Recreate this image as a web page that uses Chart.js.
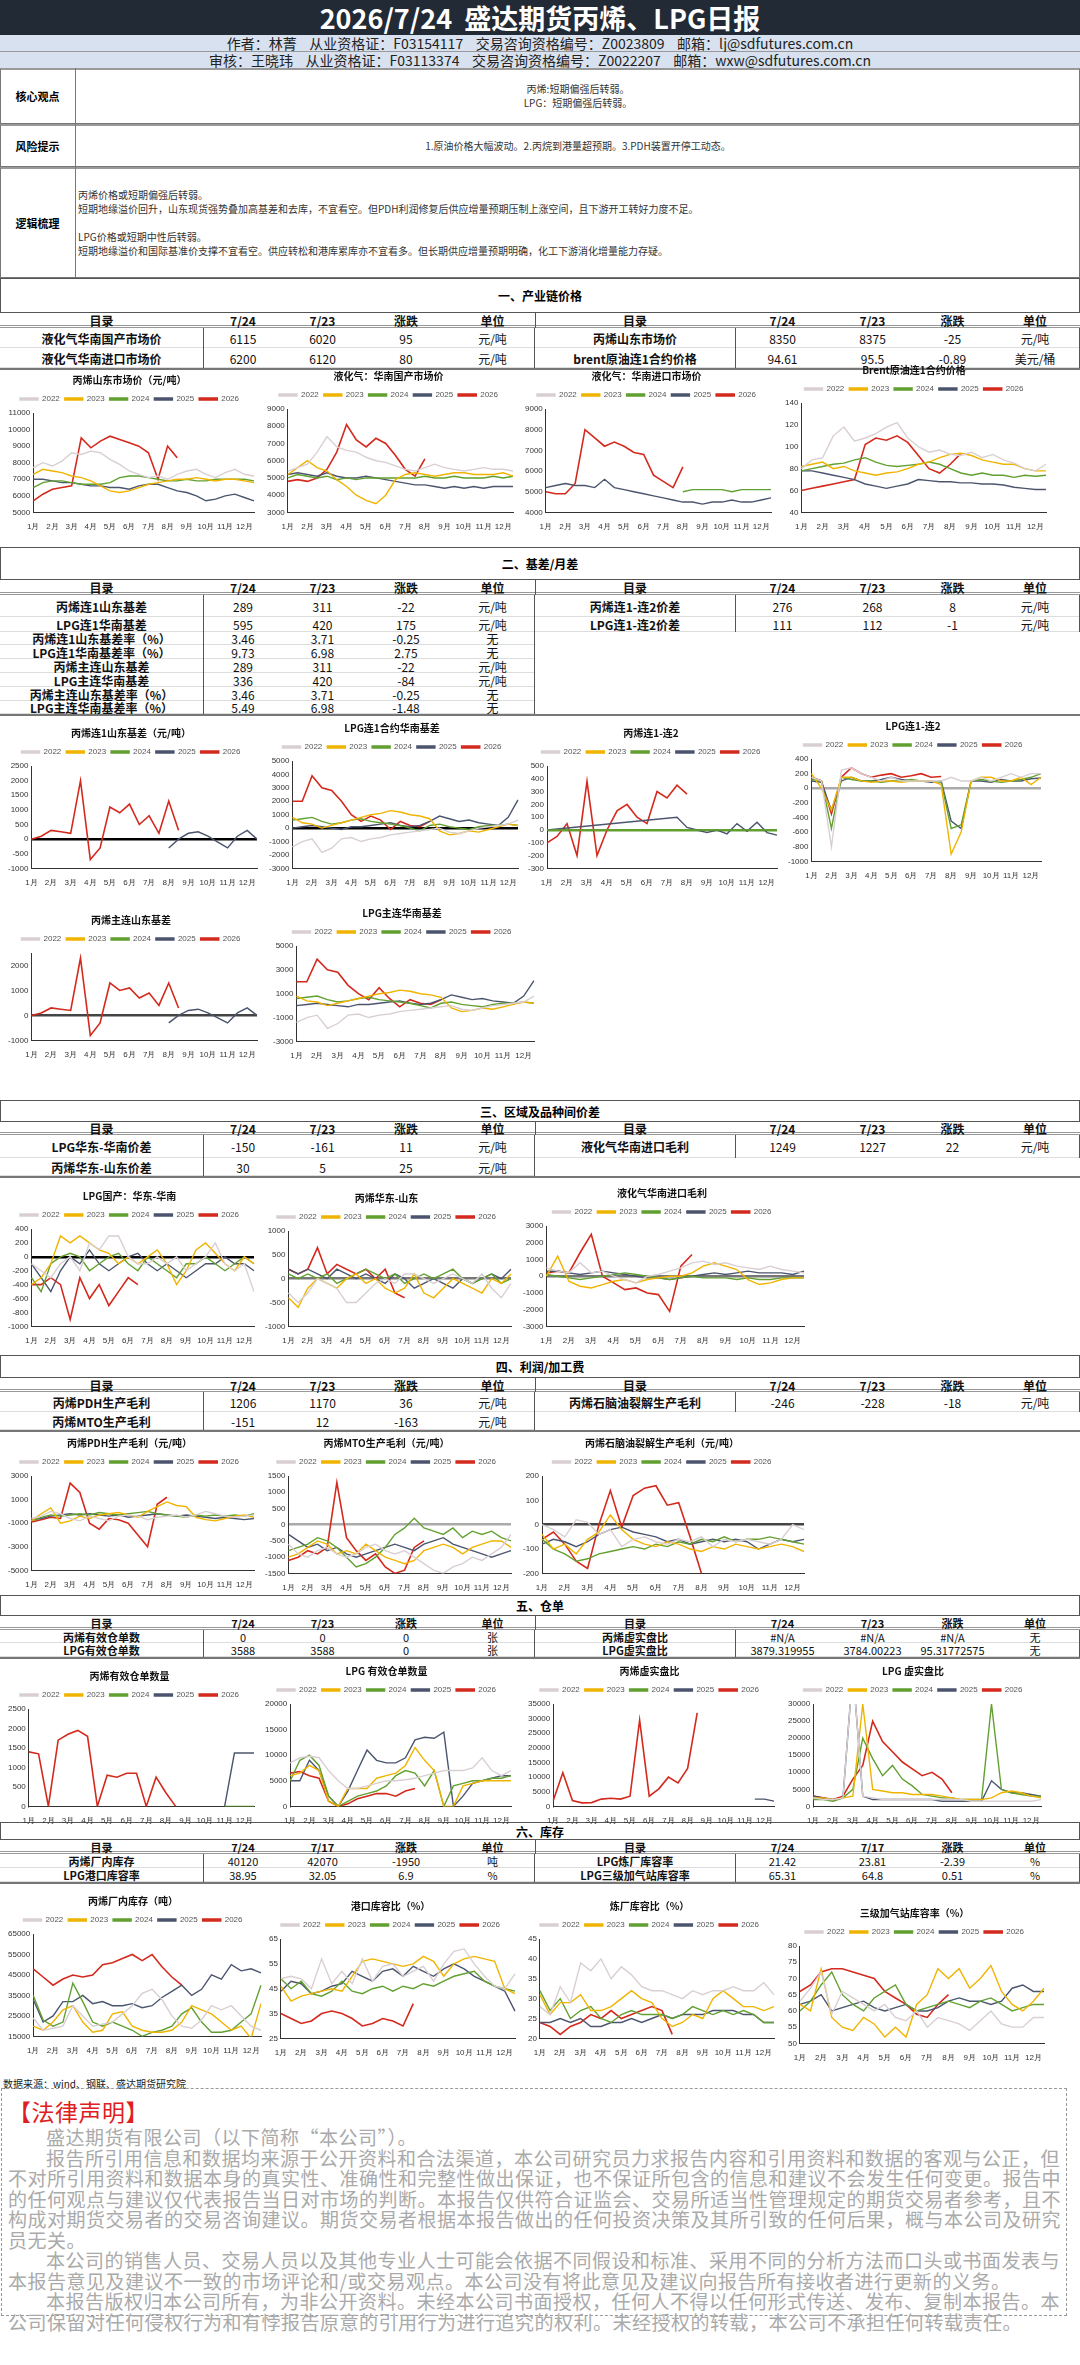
<!DOCTYPE html>
<html><head><meta charset="utf-8">
<script src="https://cdn.jsdelivr.net/npm/chart.js@4.4.1/dist/chart.umd.min.js"></script>
<style>
body{margin:0;background:#fff;font-family:"Noto Sans CJK SC","Noto Sans",sans-serif;}
#page{position:relative;width:1080px;height:2365px;overflow:hidden;background:#fff;}
.abs{position:absolute;box-sizing:border-box;}
.cell{position:absolute;box-sizing:border-box;display:flex;align-items:center;justify-content:center;font-size:12px;color:#111;white-space:nowrap;}
.b{font-weight:bold;}
.sec{position:absolute;left:0;width:1080px;box-sizing:border-box;border:1px solid #555;border-left:1px solid #555;display:flex;align-items:center;justify-content:center;font-weight:bold;font-size:12px;}
canvas{position:absolute;}
</style></head><body><div id="page"></div>
<script>
// ---------- DATA ----------
const years=['2022','2023','2024','2025','2026'];
const months=['1月','2月','3月','4月','5月','6月','7月','8月','9月','10月','11月','12月'];
const N=null;
// 一、产业链价格
const shPropylene=[
[7700,8000,7800,8100,8600,8500,8700,8600,8200,7900,7500,7300,7100,7200,7000,7300,7500,7600,7300,7100,7400,7600,7300,7200],
[7300,7600,7500,7400,7200,7100,6900,6600,6300,6200,6300,6500,6700,6800,6900,7000,7000,7100,7000,6900,7000,7000,6900,6800],
[6500,6800,6900,6900,6800,6700,6700,6700,6800,7100,7200,7200,7100,7000,6900,6900,7000,6900,6900,7000,7000,7000,7000,6900],
[7000,7000,6900,6800,6800,6700,6600,6600,6500,6500,6400,6600,6700,6700,6500,6300,6200,6000,5700,5800,6000,6100,5900,5700],
[5700,6100,6400,6500,6600,9500,8900,9300,9600,9400,9200,9000,8600,7000,9000,8300]];
const scLpgDomestic=[
[5400,5600,5800,6500,7400,6800,6600,6500,6200,6000,5900,5700,5500,5400,5600,5800,5600,5500,5400,5500,5600,5500,5500,5400],
[5200,5600,6000,5600,5400,4900,4500,4000,3700,3500,4000,4900,5200,5300,5200,5100,5200,5300,5300,5200,5200,5200,5300,5100],
[5000,5200,5100,5000,5100,4900,5000,4900,5000,5000,5000,5000,5000,5000,5100,5000,5000,5100,5000,5000,5000,5100,5000,5100],
[5200,5300,5200,5100,5300,5100,5000,5000,5100,5000,4900,4800,4700,4600,4600,4500,4400,4500,4400,4500,4400,4500,4500,4500],
[4800,4900,4800,5000,5500,6500,8100,7200,6800,7300,7000,6300,5500,5100,6100]];
const scLpgImport=[[],[],
[N,N,N,N,N,N,N,N,N,N,N,N,N,N,5000,5100,5100,5100,5100,5000,5100,5100,5100,5100],
[5200,5300,5400,5300,5300,5200,5600,5200,5100,5000,4900,4800,4700,4600,4500,4500,4400,4500,4500,4600,4500,4500,4600,4700],
[5000,4900,4900,5400,8000,7600,7200,7400,7200,6900,6800,5800,5500,5200,6200]];
const brent=[
[80,88,90,110,118,105,108,112,118,122,108,100,95,97,93,92,95,90,93,88,85,80,78,84],
[82,84,86,80,82,78,76,74,76,77,80,84,86,90,93,94,92,88,86,84,84,80,78,78],
[78,80,82,84,85,88,90,86,83,82,83,84,86,84,80,76,74,76,74,74,72,74,73,74],
[78,78,76,74,72,70,66,64,62,64,66,70,69,68,68,67,67,66,66,65,63,62,61,61],
[60,62,64,66,68,70,102,108,106,110,104,92,80,76,84,94]];
// 二、基差/月差
const ppBasis1=[[],[],[],
[N,N,N,N,N,N,N,N,N,N,N,N,N,N,-300,0,200,250,100,-100,-300,100,300,0],
[0,100,300,250,200,2000,-700,-300,1100,900,1200,500,800,200,1300,300]];
const lpgBasis1=[
[-1400,-1000,-800,-1800,-1500,-800,-700,-1000,-800,-700,-500,-400,-300,-200,-100,0,-300,-400,-200,0,100,200,300,600],
[800,400,300,0,200,400,600,800,1000,1100,1300,1200,1000,900,700,-200,-500,-400,-200,-300,-100,100,300,200],
[600,700,800,500,300,400,600,700,500,400,300,200,0,-200,200,300,100,0,-100,100,200,200,300,200],
[0,100,200,100,0,-100,100,100,200,300,400,200,100,200,500,900,700,500,600,400,300,200,800,2100],
[2000,2000,3900,3000,2800,2000,1000,500,900,600,-100,500,200,100,500]];
const ppSpread12=[[],[],
[0,0,0,0,0,0,0,0,0,0,0,0,0,0,0,0,0,0,0,0,0,0,0,0],
[0,N,N,N,N,N,N,N,N,N,N,N,N,100,20,0,-20,0,-30,50,-10,60,-20,-40],
[-100,-50,50,-200,380,-200,0,150,200,100,50,300,250,350,280]];
const lpgSpread12=[
[150,100,-800,250,280,200,150,100,150,100,100,100,100,100,150,100,100,150,100,150,200,150,200,200],
[200,0,-300,150,150,100,80,100,100,80,100,100,100,50,-900,-600,100,150,150,100,100,150,50,150],
[120,100,-550,150,120,100,100,80,100,100,120,100,100,80,-550,-500,100,120,100,80,100,120,150,200],
[100,80,-300,100,150,100,100,120,150,120,100,100,80,100,-450,-550,100,100,80,120,100,100,130,140],
[150,100,-350,150,280,200,150,180,200,150,170,200,150,160]];
const ppBasisMain=[[],[],[],
[N,N,N,N,N,N,N,N,N,N,N,N,N,N,-300,0,200,250,100,-100,-300,100,300,0],
[0,100,300,250,200,2300,-800,-300,1300,1000,1100,700,900,400,1300,300]];
const lpgBasisMain=[
[-1400,-1000,-800,-1900,-1500,-800,-700,-1000,-800,-700,-500,-400,-300,-200,-100,0,-300,-400,-200,0,100,200,300,800],
[800,400,300,0,200,400,600,800,1000,1100,1300,1200,1000,900,700,-200,-500,-400,-200,-300,-100,100,300,200],
[600,700,800,500,300,400,600,700,500,400,300,200,0,-200,200,300,100,0,-100,100,200,200,300,200],
[0,100,200,100,0,-100,100,100,200,300,400,200,100,200,500,900,700,500,600,400,300,200,800,2100],
[2000,2000,3900,3000,2800,1700,1000,500,1500,600,-100,500,200,100,500]];
// 三、区域及品种间价差
const lpgEastSouth=[
[-100,-200,-300,-100,0,-200,200,100,300,300,0,-100,-100,0,-100,0,-200,-100,0,200,-100,-200,-100,-500],
[-400,-300,-100,300,200,300,200,100,50,-100,0,-100,0,100,-100,-400,-200,100,200,50,-100,-200,0,-100],
[-300,-500,-100,0,50,0,-200,-100,0,50,-100,-200,0,-100,-200,-300,-100,-100,0,-100,-200,-100,0,-100],
[-100,-300,-500,-200,0,-100,100,-100,-200,-100,0,50,-100,-200,-100,-200,-300,-200,-100,-100,0,-100,-100,-200],
[-400,-400,-300,-400,-900,-300,-600,-400,-700,-500,-300,-400]];
const ppEastShandong=[
[-300,-500,-300,0,-100,-200,-500,-500,-300,-100,0,-100,100,100,0,-100,0,100,0,-100,100,-200,-400,-100],
[-400,-600,-200,0,-100,-200,0,100,-100,0,-200,-300,-200,100,-300,-400,-200,0,-100,-200,-300,0,-100,100],
[100,0,100,0,100,-100,0,100,200,100,0,100,-100,0,100,0,100,200,0,-100,0,100,-100,0],
[200,100,200,100,0,200,100,0,100,0,-100,100,0,-200,-100,0,-100,-200,0,-100,0,100,0,200],
[200,100,200,650,100,300,200,100,200,0,200,-300,-400]];
const lpgImportMargin=[
[500,300,200,800,200,300,0,-200,-400,0,100,300,500,800,900,700,800,600,500,400,600,400,300,200],
[0,1200,-300,-600,-700,-500,-300,-200,-400,-200,-100,0,0,200,600,800,600,400,-200,-500,-400,-200,-100,-100],
[100,0,-100,-200,-100,0,100,200,100,0,-100,-200,-100,0,-100,-100,-100,-200,-100,-200,-200,-100,-100,-100],
[300,300,200,100,200,300,200,100,0,-100,-100,-200,-100,0,100,200,100,200,300,200,200,200,100,300],
[200,300,200,1400,2500,0,-400,-800,-700,-1000,-1100,-2100,600,1300]];
// 四、利润/加工费
const pdhMargin=[
[-600,-400,0,-200,-600,-800,-400,-600,-800,-400,-300,-400,-700,-500,-400,-300,-500,-300,0,-200,-400,-500,-400,-300],
[-800,-200,300,-1000,-800,-400,-600,-300,-200,-100,-300,-500,0,400,800,500,400,-500,-700,-800,-600,-400,-300,-500],
[-800,-500,-300,-400,-300,-200,-300,-100,-200,-300,-200,-100,0,-200,-300,-400,-500,-300,-400,-300,-400,-300,-400,-200],
[-700,-600,-400,-300,-200,-300,-200,-300,-400,-300,-500,-400,-300,-200,-300,-400,-300,-400,-500,-600,-500,-600,-700,-600],
[-900,-700,-500,-600,2400,1600,-1000,-1500,-600,-700,-1000,-2000,-3000,600,1200]];
const mtoMargin=[
[-600,-900,-1000,-800,-700,-900,-1000,-900,-700,-600,-800,-900,-800,-1000,-1200,-1400,-1500,-1300,-1200,-1000,-1100,-900,-700,-300],
[-1000,-900,-700,-500,-600,-900,-800,-900,-600,-800,-1000,-1100,-1200,-1100,-800,-700,-600,-700,-900,-700,-600,-500,-500,-700],
[-800,-700,-600,-400,-500,-700,-1000,-1300,-1200,-1000,-700,-300,-100,200,-100,-200,-300,-100,-400,-200,-300,-200,-400,-500],
[-300,-500,-700,-600,-800,-700,-900,-1000,-900,-800,-700,-600,-700,-800,-600,-500,-400,-600,-700,-800,-900,-1000,-900,-800],
[-1100,-1000,-800,-900,-700,1300,-400,-800,-1100,-900,-1300,-1500,-1400,-700,-500]];
const naphthaMargin=[
[0,-20,-50,20,10,-40,-20,-90,-60,-50,-70,-80,-60,-70,-50,-90,-60,-70,-60,-70,-80,-60,0,-20],
[-40,-100,-80,-120,-60,-30,40,-20,-60,-80,-90,-70,-80,-100,-110,-90,-100,-80,-90,-100,-90,-80,-90,-110],
[-60,-100,-120,-150,-140,-120,-110,-100,-90,-100,-80,-90,-70,-80,-60,-70,-50,-70,-60,-60,-50,-60,-70,-80],
[-80,-60,-70,-90,-70,-40,-20,-10,-30,-40,-50,-70,-60,-80,-70,-60,-70,-60,-70,-100,-80,-60,-70,-60],
[-60,-30,-80,-150,-180,0,140,-10,120,150,160,80,90,-50,-200]];
// 五、仓单
const ppWarrants=[[],[],
[N,N,N,N,N,N,N,N,N,N,N,N,N,N,N,N,N,N,N,N,0,0,0,0],
[N,N,N,N,N,N,N,N,N,N,N,N,N,N,N,N,N,N,N,N,0,1370,1370,1370],
[1400,1350,0,1700,1850,1950,1800,0,800,750,850,850,0,750,350,0]];
const lpgWarrants=[
[8500,9500,9800,9500,7000,5000,3500,3500,4000,4500,5000,5000,5200,5500,6000,6500,7000,7000,7000,7500,9500,7000,6000,7000],
[6000,6500,8000,7000,1000,0,3500,3500,3500,5500,6000,6500,8000,11500,9000,7000,0,0,4000,4500,5000,5000,5000,5000],
[5000,9000,10000,8000,2000,0,1000,2000,2500,3000,4000,6000,7000,6500,4000,7000,0,4000,4500,5000,5000,5500,5500,6000],
[5000,5000,9000,7000,2000,0,3000,7000,11000,9000,8500,8500,9500,13000,13500,13300,14500,0,2000,4500,5000,5500,6000,6000],
[6500,6800,6000,5500,1000,0,500,1500,2000,2500,2500,2000,3000,3500]];
const ppVirtualRatio=[[],[],[],
[N,N,N,N,N,N,N,N,N,N,N,N,N,N,N,N,N,N,N,N,N,2500,2500,1800],
[2000,11500,2000,1200,1300,2500,2800,2500,3500,29500,3500,6000,10000,8000,13000,32000]];
const lpgVirtualRatio=[
[2500,2000,2000,2500,40000,3000,2500,2000,2000,2000,2000,2000,2000,2000,2000,2000,1500,1500,1500,1500,1500,1500,1500,2000],
[2500,2500,2000,2500,3000,30000,5000,4500,4000,4000,3500,3500,3500,3000,2500,2000,2000,2000,2500,4000,4500,4000,3000,2500],
[2000,2000,1500,2500,5000,20000,14000,9000,12000,8000,6000,3500,3000,2500,2500,2000,2000,2000,30000,5000,4000,3500,3000,3000],
[3000,2500,2000,2500,40000,3000,2000,2000,2000,2000,2000,2000,2000,1500,1500,1500,1500,1500,7500,5000,4000,4000,3500,3000],
[3000,2500,2000,3000,8000,12000,25000,19000,16000,13000,11000,9000,10000,8000,4000]];
// 六、库存
const ppPlantStock=[
[24000,18000,19000,20000,30000,25000,20000,21000,22000,26000,30000,36000,38000,33000,25000,20000,19000,23000,30000,28000,30000,25000,20000,18000],
[20000,18000,22000,28000,30000,22000,17000,18000,26000,27000,20000,18000,17000,17000,18000,22000,30000,28000,26000,22000,18000,20000,14000,31000],
[35000,23000,20000,22000,41000,32000,22000,20000,22000,20000,18000,15000,17000,18000,20000,26000,29000,22000,17000,17000,18000,22000,26000,40000],
[33000,22000,25000,32000,32000,35000,31000,32000,30000,30000,31000,29000,30000,34000,37000,40000,35000,38000,45000,43000,50000,47000,48000,46000],
[48000,44000,40000,43000,45000,44000,45000,50000,51000,53000,55000,52000,55000,49000,44000,40000]];
const portRatio=[
[49,50,49,45,57,47,52,47,57,48,54,55,50,52,54,48,55,60,61,55,50,46,45,51],
[46,40,42,43,44,45,44,50,56,57,56,55,54,55,58,56,50,55,57,58,57,56,45,43],
[49,45,48,43,42,44,48,44,43,45,46,44,46,45,47,46,48,50,51,52,48,46,45,44],
[44,48,47,43,44,46,47,52,50,48,52,53,50,54,52,50,53,55,53,50,48,46,44,36],
[35,33,31,32,35,36,35,33,30,31,33,32,30,39]];
const refineryRatio=[
[28,26,33,29,39,37,40,35,38,36,33,32,32,31,30,32,31,32,32,33,32,32,34,31],
[31,26,29,29,31,27,27,28,30,32,30,29,25,23,24,26,25,30,32,30,28,28,27,28],
[32,27,30,25,27,28,25,24,26,27,26,26,26,25,26,28,27,26,27,26,27,26,24,24],
[24,24,25,24,25,23,23,24,24,25,24,25,26,25,26,26,26,27,27,27,26,26,24,24],
[24,23,21,23,24,26,25,27,25,26,27,28,27,21]];
const stationRatio=[
[63,67,72,59,66,64,62,60,62,58,57,60,55,58,57,56,54,57,60,56,55,55,58,58],
[62,60,73,58,55,54,58,56,52,55,52,62,65,73,70,73,67,70,74,66,62,60,63,67],
[60,63,68,72,65,62,60,64,66,68,62,60,61,62,63,62,61,63,64,62,60,61,62,62],
[62,63,65,60,61,62,63,61,60,61,62,60,60,61,63,64,63,63,62,63,67,68,66,66],
[66,68,72,73,73,72,71,70,66,64,62,59,58,62,65]];

// ---------- TABLE DATA ----------
const hdrL=['目录','7/24','7/23','涨跌','单位'];
const hdrW=['目录','7/24','7/17','涨跌','单位'];
const t1L=[['液化气华南国产市场价','6115','6020','95','元/吨'],['液化气华南进口市场价','6200','6120','80','元/吨']];
const t1R=[['丙烯山东市场价','8350','8375','-25','元/吨'],['brent原油连1合约价格','94.61','95.5','-0.89','美元/桶']];
const t2L=[['丙烯连1山东基差','289','311','-22','元/吨'],['LPG连1华南基差','595','420','175','元/吨'],['丙烯连1山东基差率（%）','3.46','3.71','-0.25','无'],['LPG连1华南基差率（%）','9.73','6.98','2.75','无'],['丙烯主连山东基差','289','311','-22','元/吨'],['LPG主连华南基差','336','420','-84','元/吨'],['丙烯主连山东基差率（%）','3.46','3.71','-0.25','无'],['LPG主连华南基差率（%）','5.49','6.98','-1.48','无']];
const t2R=[['丙烯连1-连2价差','276','268','8','元/吨'],['LPG连1-连2价差','111','112','-1','元/吨']];
const t3L=[['LPG华东-华南价差','-150','-161','11','元/吨'],['丙烯华东-山东价差','30','5','25','元/吨']];
const t3R=[['液化气华南进口毛利','1249','1227','22','元/吨']];
const t4L=[['丙烯PDH生产毛利','1206','1170','36','元/吨'],['丙烯MTO生产毛利','-151','12','-163','元/吨']];
const t4R=[['丙烯石脑油裂解生产毛利','-246','-228','-18','元/吨']];
const t5L=[['丙烯有效仓单数','0','0','0','张'],['LPG有效仓单数','3588','3588','0','张']];
const t5R=[['丙烯虚实盘比','#N/A','#N/A','#N/A','无'],['LPG虚实盘比','3879.319955','3784.00223','95.31772575','无']];
const t6L=[['丙烯厂内库存','40120','42070','-1950','吨'],['LPG港口库容率','38.95','32.05','6.9','%']];
const t6R=[['LPG炼厂库容率','21.42','23.81','-2.39','%'],['LPG三级加气站库容率','65.31','64.8','0.51','%']];

// ---------- LAYOUT ----------
const page=document.getElementById('page');
function el(tag,cls,style,html){const e=document.createElement(tag);if(cls)e.className=cls;Object.assign(e.style,style);if(html!==undefined)e.innerHTML=html;page.appendChild(e);return e;}
function px(v){return v+'px';}
el('div','abs',{left:'0',top:'0',width:'1080px',height:'35px',background:'#222a35',color:'#fff',fontSize:'27px',display:'flex',alignItems:'center',justifyContent:'center',fontWeight:'bold'},'2026/7/24&nbsp;&nbsp;盛达期货丙烯、LPG日报');
el('div','abs',{left:'0',top:'35px',width:'1080px',height:'17px',background:'#d7e1ef',borderBottom:'1px solid #999',fontSize:'14px',display:'flex',alignItems:'center',justifyContent:'center',color:'#222'},'作者：林菁&nbsp;&nbsp;&nbsp;&nbsp;从业资格证：F03154117&nbsp;&nbsp;&nbsp;&nbsp;交易咨询资格编号：Z0023809&nbsp;&nbsp;&nbsp;&nbsp;邮箱：lj@sdfutures.com.cn');
el('div','abs',{left:'0',top:'52px',width:'1080px',height:'16px',background:'#d7e1ef',fontSize:'14px',display:'flex',alignItems:'center',justifyContent:'center',color:'#222'},'审核：王晓玮&nbsp;&nbsp;&nbsp;&nbsp;从业资格证：F03113374&nbsp;&nbsp;&nbsp;&nbsp;交易咨询资格编号：Z0022207&nbsp;&nbsp;&nbsp;&nbsp;邮箱：wxw@sdfutures.com.cn');
function viewRow(top,h,label,html,align){
  el('div','abs',{left:'0',top:px(top),width:'1080px',height:px(h),border:'1px solid #777',borderTop:'2px solid #999'});
  el('div','abs',{left:'0',top:px(top),width:'76px',height:px(h),borderRight:'1px solid #777',display:'flex',alignItems:'center',justifyContent:'center',fontWeight:'bold',fontSize:'11px'},label);
  el('div','abs',{left:'78px',top:px(top),width:'1000px',height:px(h),display:'flex',flexDirection:'column',justifyContent:'center',alignItems:align,fontSize:'10px',color:'#333',lineHeight:'14px'},html);
}
viewRow(68,56,'核心观点','<div>丙烯:短期偏强后转弱。</div><div>LPG：短期偏强后转弱。</div>','center');
viewRow(124,43,'风险提示','<div>1.原油价格大幅波动。2.丙烷到港量超预期。3.PDH装置开停工动态。</div>','center');
viewRow(167,111,'逻辑梳理','<div>丙烯价格或短期偏强后转弱。</div><div>短期地缘溢价回升，山东现货强势叠加高基差和去库，不宜看空。但PDH利润修复后供应增量预期压制上涨空间，且下游开工转好力度不足。</div><div>&nbsp;</div><div>LPG价格或短期中性后转弱。</div><div>短期地缘溢价和国际基准价支撑不宜看空。供应转松和港库累库亦不宜看多。但长期供应增量预期明确，化工下游消化增量能力存疑。</div>','flex-start');

const colL=[0,203,283,362,450,535], colR=[535,735,830,915,990,1080];
function section(top,h,title){el('div','sec',{top:px(top),height:px(h)},title);}
function table(top,hh,rowHs,L,R,hdr,fs){
  hdr=hdr||hdrL;fs=fs||12;
  el('div','abs',{left:'0',top:px(top),width:'1080px',height:px(hh),borderBottom:'3px double #999'});
  el('div','abs',{left:'535px',top:px(top),width:'1px',height:px(hh),background:'#555'});
  for(let i=0;i<5;i++){
    el('div','cell b',{left:px(colL[i]),top:px(top),width:px(colL[i+1]-colL[i]),height:px(hh),fontSize:fs+'px'},hdr[i]);
    el('div','cell b',{left:px(colR[i]),top:px(top),width:px(colR[i+1]-colR[i]),height:px(hh),fontSize:fs+'px'},hdr[i]);
  }
  const drawSide=(rows,cols)=>{let yy=top+hh;rows.forEach((r,k)=>{const h=rowHs[k];
    el('div','abs',{left:px(cols[0]),top:px(yy),width:px(cols[5]-cols[0]),height:px(h),borderBottom:'1px solid #ddd'});
    for(let i=0;i<5;i++) el('div','cell'+(i==0?' b':''),{left:px(cols[i]),top:px(yy),width:px(cols[i+1]-cols[i]),height:px(h),fontSize:fs+'px'},r[i]);
    yy+=h;});
    el('div','abs',{left:px(cols[1]),top:px(top+hh),width:'1px',height:px(yy-top-hh),background:'#555'});
    el('div','abs',{left:px(cols[5]-1),top:px(top+hh),width:'1px',height:px(yy-top-hh),background:'#555'});
    return yy;};
  const b1=drawSide(L,colL); drawSide(R,colR);
  el('div','abs',{left:'0',top:px(b1),width:'1080px',height:'2px',background:'#777'});
}
section(278,35,'一、产业链价格'); table(313,15,[20,20],t1L,t1R);
section(547,33,'二、基差/月差'); table(580,15,[22,15,13,14,14,14,14,13],t2L,t2R);
section(1100,22,'三、区域及品种间价差'); table(1122,13,[23,18],t3L,t3R,null,12);
section(1355,23,'四、利润/加工费'); table(1378,14,[20,18],t4L,t4R);
section(1595,21,'五、仓单'); table(1616,14,[13,14],t5L,t5R,null,11);
section(1822,18,'六、库存'); table(1840,14,[14,14],t6L,t6R,hdrW,11);

el('div','abs',{left:'3px',top:'2076px',fontSize:'10px',color:'#222'},'数据来源：wind、钢联、盛达期货研究院');
el('div','abs',{left:'1px',top:'2088px',width:'1066px',height:'228px',border:'1px dashed #999',padding:'8px 4px 0 6px',color:'#aaa',fontSize:'19px',lineHeight:'20.5px',letterSpacing:'0.5px'},
'<div style="color:#e02020;font-size:23px;line-height:28px;margin-bottom:2px">【法律声明】</div>'+
'<div style="text-indent:2em">盛达期货有限公司（以下简称“本公司”）。</div>'+
'<div style="text-indent:2em">报告所引用信息和数据均来源于公开资料和合法渠道，本公司研究员力求报告内容和引用资料和数据的客观与公正，但不对所引用资料和数据本身的真实性、准确性和完整性做出保证，也不保证所包含的信息和建议不会发生任何变更。报告中的任何观点与建议仅代表报告当日对市场的判断。本报告仅供符合证监会、交易所适当性管理规定的期货交易者参考，且不构成对期货交易者的交易咨询建议。期货交易者根据本报告做出的任何投资决策及其所引致的任何后果，概与本公司及研究员无关。</div>'+
'<div style="text-indent:2em">本公司的销售人员、交易人员以及其他专业人士可能会依据不同假设和标准、采用不同的分析方法而口头或书面发表与本报告意见及建议不一致的市场评论和/或交易观点。本公司没有将此意见及建议向报告所有接收者进行更新的义务。</div>'+
'<div style="text-indent:2em">本报告版权归本公司所有，为非公开资料。未经本公司书面授权，任何人不得以任何形式传送、发布、复制本报告。本公司保留对任何侵权行为和有悖报告原意的引用行为进行追究的权利。未经授权的转载，本公司不承担任何转载责任。</div>');

// ---------- CHARTS ----------
const colors=['#d9cfd2','#f0b400','#62a030','#4b556e','#d42a1e'];
const xLabels=[];for(let i=0;i<24;i++)xLabels.push(i%2===0?months[i/2]:'');
function chart(x,y,w,h,title,data,min,max,step,zero,zeroColor){
  const c=document.createElement('canvas');c.width=w;c.height=h;c.style.left=x+'px';c.style.top=y+'px';c.style.width=w+'px';c.style.height=h+'px';page.appendChild(c);
  new Chart(c,{type:'line',data:{labels:xLabels,datasets:data.map((d,i)=>({label:years[i],data:d,borderColor:colors[i],backgroundColor:colors[i],borderWidth:i===4?1.6:1.4,pointRadius:0,tension:0,spanGaps:true}))},
  options:{responsive:false,animation:false,layout:{padding:{right:6}},
   plugins:{title:{display:true,text:title,font:{size:10,weight:'bold',family:'Noto Sans CJK SC'},color:'#111',padding:{top:2,bottom:4}},
    legend:{display:true,position:'top',labels:{boxWidth:18,boxHeight:2,font:{size:8},color:'#555',padding:5}},tooltip:{enabled:false}},
   scales:{x:{grid:{display:false},border:{color:'#333'},ticks:{autoSkip:false,maxRotation:0,font:{size:8},color:'#333',padding:2}},
    y:{min:min,max:max,ticks:{stepSize:step,font:{size:8},color:'#333',callback:(v)=>String(v)},border:{color:'#333'},
      grid:{drawTicks:false,color:(ctx)=>(zero&&ctx.tick&&ctx.tick.value===0)?(zeroColor||'#000'):'rgba(0,0,0,0)',lineWidth:(ctx)=>(ctx.tick&&ctx.tick.value===0)?2.5:0}}}}});
}
chart(5,372,255,162,'丙烯山东市场价（元/吨）',shPropylene,5000,11000,1000);
chart(264,368,255,166,'液化气：华南国产市场价',scLpgDomestic,3000,9000,1000);
chart(522,368,255,166,'液化气：华南进口市场价',scLpgImport,4000,9000,1000);
chart(782,362,270,172,'Brent原油连1合约价格',brent,40,140,20);

chart(5,725,258,165,'丙烯连1山东基差（元/吨）',ppBasis1,-1000,2500,500,true);
chart(266,720,258,170,'LPG连1合约华南基差',lpgBasis1,-3000,5000,1000,true);
chart(525,725,258,165,'丙烯连1-连2',ppSpread12,-300,500,100,true,'#62a030');
chart(785,718,262,165,'LPG连1-连2',lpgSpread12,-1000,400,200,true,'#aaa');
chart(5,912,258,150,'丙烯主连山东基差',ppBasisMain,-1000,2500,500,true,'#444');
chart(270,905,270,158,'LPG主连华南基差',lpgBasisMain,-3000,5000,1000,true,'#444');

chart(5,1188,255,160,'LPG国产：华东-华南',lpgEastSouth,-1000,400,200,true);
chart(262,1190,255,158,'丙烯华东-山东',ppEastShandong,-1000,1000,500,true,'#777');
chart(520,1185,290,163,'液化气华南进口毛利',lpgImportMargin,-3000,3000,1000,true,'#777');

chart(5,1435,255,157,'丙烯PDH生产毛利（元/吨）',pdhMargin,-5000,3000,2000,true,'#aaa');
chart(262,1435,255,160,'丙烯MTO生产毛利（元/吨）',mtoMargin,-1500,1500,500,true,'#aaa');
chart(520,1435,290,160,'丙烯石脑油裂解生产毛利（元/吨）',naphthaMargin,-200,200,100,true,'#444');

chart(5,1668,255,160,'丙烯有效仓单数量',ppWarrants,0,2500,500);
chart(262,1663,255,165,'LPG 有效仓单数量',lpgWarrants,0,20000,5000);
chart(525,1663,255,165,'丙烯虚实盘比',ppVirtualRatio,0,35000,5000);
chart(785,1663,262,165,'LPG 虚实盘比',lpgVirtualRatio,0,30000,5000);

chart(5,1893,262,165,'丙烯厂内库存（吨）',ppPlantStock,15000,65000,10000);
chart(266,1898,255,162,'港口库容比（%）',portRatio,25,65,10);
chart(525,1898,255,162,'炼厂库容比（%）',refineryRatio,20,45,5);
chart(785,1905,265,160,'三级加气站库容率（%）',stationRatio,50,80,5);
</script></body></html>
